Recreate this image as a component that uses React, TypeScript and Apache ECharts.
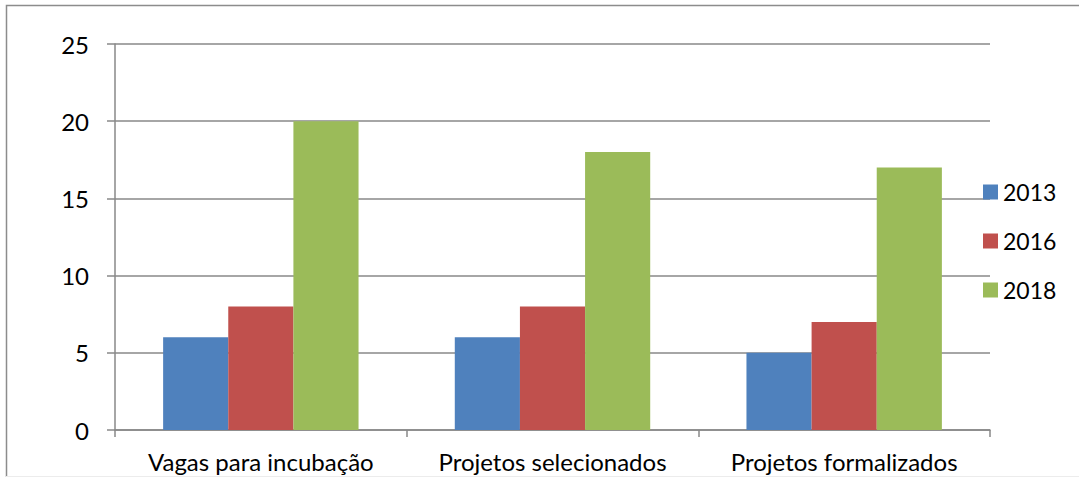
import React, { useEffect, useRef } from "react";
import * as echarts from "echarts";

const categories = ["Vagas para incubação", "Projetos selecionados", "Projetos formalizados"];
const series2013 = [6, 6, 5];
const series2016 = [8, 8, 7];
const series2018 = [20, 18, 17];
const seriesNames = ["2013", "2016", "2018"];
const colors = ["#4F81BD", "#C0504D", "#9BBB59"];

export default function App() {
  const ref = useRef<HTMLDivElement>(null);
  useEffect(() => {
    document.body.style.margin = "0";
    const chart = echarts.init(ref.current!, null, { renderer: "svg" });
    const font = "Lato, 'Liberation Sans', sans-serif";
    const data = [series2013, series2016, series2018];
    chart.setOption({
      animation: false,
      textStyle: { fontFamily: font },
      grid: { left: 115, right: 89, top: 44, bottom: 47, containLabel: false },
      legend: {
        orient: "vertical",
        left: 978,
        top: 175,
        itemWidth: 15,
        itemHeight: 15,
        itemGap: 25,
        itemTextGap: 7,
        icon: "rect",
        textStyle: { fontSize: 23, lineHeight: 24, color: "#000", fontFamily: font },
        data: seriesNames,
      },
      xAxis: {
        type: "category",
        data: categories,
        axisLine: { lineStyle: { color: "#888", width: 1.5 } },
        axisTick: { show: true, length: 7, lineStyle: { color: "#888", width: 1.5 } },
        axisLabel: { fontSize: 24, color: "#000", margin: 19, fontFamily: font, interval: 0 },
      },
      yAxis: {
        type: "value",
        min: 0,
        max: 25,
        interval: 5,
        axisLine: { show: true, lineStyle: { color: "#888", width: 1.5 } },
        axisTick: { show: true, length: 8, lineStyle: { color: "#888", width: 1.5 } },
        axisLabel: { fontSize: 24, color: "#000", margin: 26, fontFamily: font },
        splitLine: { lineStyle: { color: "#888", width: 1.5 } },
      },
      series: seriesNames.map((name, i) => ({
        name,
        type: "bar",
        data: data[i],
        barGap: "0%",
        barCategoryGap: "33%",
        itemStyle: { color: colors[i] },
      })),
      graphic: [
        {
          type: "polyline",
          shape: { points: [[6.5, 480], [6.5, 5.5], [1085, 5.5]] },
          style: { fill: "none", stroke: "#8c8c8c", lineWidth: 1.5 },
          silent: true,
        },
        {
          type: "line",
          shape: { x1: 6, y1: 476.5, x2: 1079, y2: 476.5 },
          style: { stroke: "#ececec", lineWidth: 1 },
          silent: true,
        },
      ],
    });
    return () => chart.dispose();
  }, []);
  return <div ref={ref} style={{ width: 1079, height: 477 }} />;
}
